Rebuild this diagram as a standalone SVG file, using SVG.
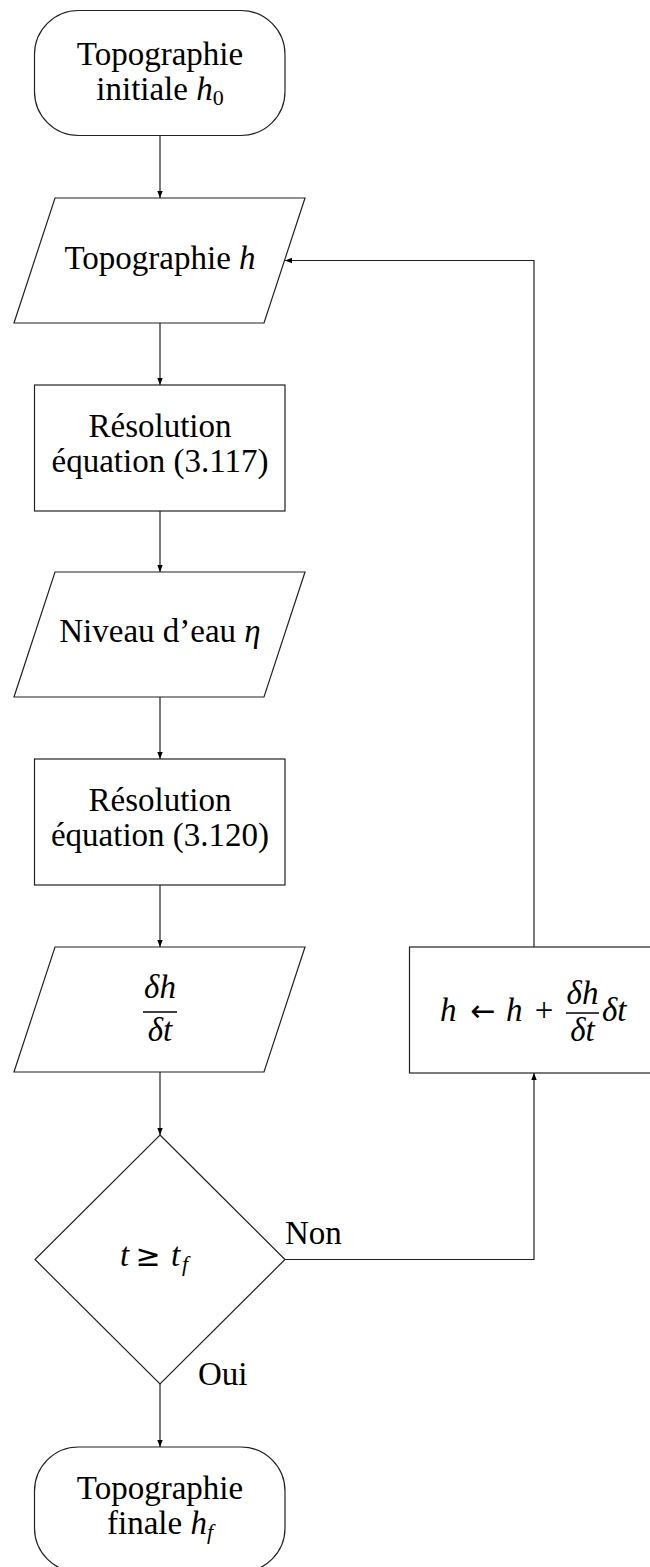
<svg xmlns="http://www.w3.org/2000/svg" width="650" height="1567" viewBox="0 0 650 1567">
<style>
.shape{fill:#fff;stroke:#222;stroke-width:1.2}
.conn{fill:none;stroke:#222;stroke-width:1.2}
text{font-family:"Liberation Serif","Times New Roman",serif;font-size:33px;fill:#000}
.c{text-anchor:middle}
.i{font-style:italic}
.sub{font-size:22px}
.sym{font-family:"DejaVu Sans",sans-serif;font-size:30px}
.bar{stroke:#000;stroke-width:1.3}
</style>
<defs>
<marker id="arr" markerUnits="userSpaceOnUse" markerWidth="8" markerHeight="6" refX="7" refY="3" orient="auto">
<path d="M0,0.3 L7,3 L0,5.7 z" fill="#000"/>
</marker>
</defs>
<rect width="650" height="1567" fill="#fff"/>

<g id="connectors">
<line class="conn" x1="160" y1="135" x2="160" y2="198" marker-end="url(#arr)"/>
<line class="conn" x1="160" y1="323" x2="160" y2="385" marker-end="url(#arr)"/>
<line class="conn" x1="160" y1="511" x2="160" y2="572" marker-end="url(#arr)"/>
<line class="conn" x1="160" y1="697" x2="160" y2="759" marker-end="url(#arr)"/>
<line class="conn" x1="160" y1="885" x2="160" y2="947" marker-end="url(#arr)"/>
<line class="conn" x1="160" y1="1072" x2="160" y2="1135" marker-end="url(#arr)"/>
<line class="conn" x1="160" y1="1384" x2="160" y2="1447" marker-end="url(#arr)"/>
<polyline class="conn" points="285,1259.5 534,1259.5 534,1073" marker-end="url(#arr)"/>
<polyline class="conn" points="534,947 534,260.5 285,260.5" marker-end="url(#arr)"/>
</g>

<g id="start">
<rect class="shape" x="34.5" y="10.5" width="250.5" height="125" rx="44" ry="44"/>
<text class="c" x="160" y="65">Topographie</text>
<text class="c" x="160" y="100">initiale <tspan class="i">h</tspan><tspan class="sub" dy="5">0</tspan></text>
</g>

<g id="topo">
<polygon class="shape" points="55,198 305,198 264,323 14,323"/>
<text class="c" x="160" y="269">Topographie <tspan class="i">h</tspan></text>
</g>

<g id="res1">
<rect class="shape" x="34.5" y="385" width="250.5" height="126"/>
<text class="c" x="160" y="437">Résolution</text>
<text class="c" x="160" y="472">équation (3.117)</text>
</g>

<g id="niveau">
<polygon class="shape" points="55,572 305,572 264,697 14,697"/>
<text class="c" x="160" y="642">Niveau d’eau <tspan class="i">η</tspan></text>
</g>

<g id="res2">
<rect class="shape" x="34.5" y="759" width="250.5" height="126"/>
<text class="c" x="160" y="811">Résolution</text>
<text class="c" x="160" y="846">équation (3.120)</text>
</g>

<g id="deriv">
<polygon class="shape" points="55,947 305,947 264,1072 14,1072"/>
<text class="c i" x="160" y="998">δh</text>
<line class="bar" x1="143" y1="1012" x2="177" y2="1012"/>
<text class="c i" x="160" y="1041">δt</text>
</g>

<g id="test">
<polygon class="shape" points="160,1135 285,1259.5 160,1384 35,1259.5"/>
<text class="i" x="120" y="1266">t</text>
<text class="c sym" x="148" y="1266">≥</text>
<text class="i" x="171" y="1266">t</text>
<text class="i sub" x="182" y="1271">f</text>
</g>

<g id="update">
<rect class="shape" x="409.5" y="947" width="250" height="126"/>
<text class="i" x="440" y="1021">h</text>
<text class="c sym" x="483" y="1021">←</text>
<text class="i" x="506" y="1021">h</text>
<text class="c" x="544" y="1021">+</text>
<text class="c i" x="582.5" y="1004">δh</text>
<line class="bar" x1="566" y1="1013" x2="599" y2="1013"/>
<text class="c i" x="582.5" y="1041">δt</text>
<text class="i" x="602" y="1021">δt</text>
</g>

<g id="labels">
<text x="285" y="1244">Non</text>
<text x="198" y="1385">Oui</text>
</g>

<g id="end">
<rect class="shape" x="34.5" y="1447" width="250.5" height="125" rx="44" ry="44"/>
<text class="c" x="160" y="1499">Topographie</text>
<text class="c" x="160" y="1534">finale <tspan class="i">h</tspan><tspan class="i sub" dy="5">f</tspan></text>
</g>
</svg>
